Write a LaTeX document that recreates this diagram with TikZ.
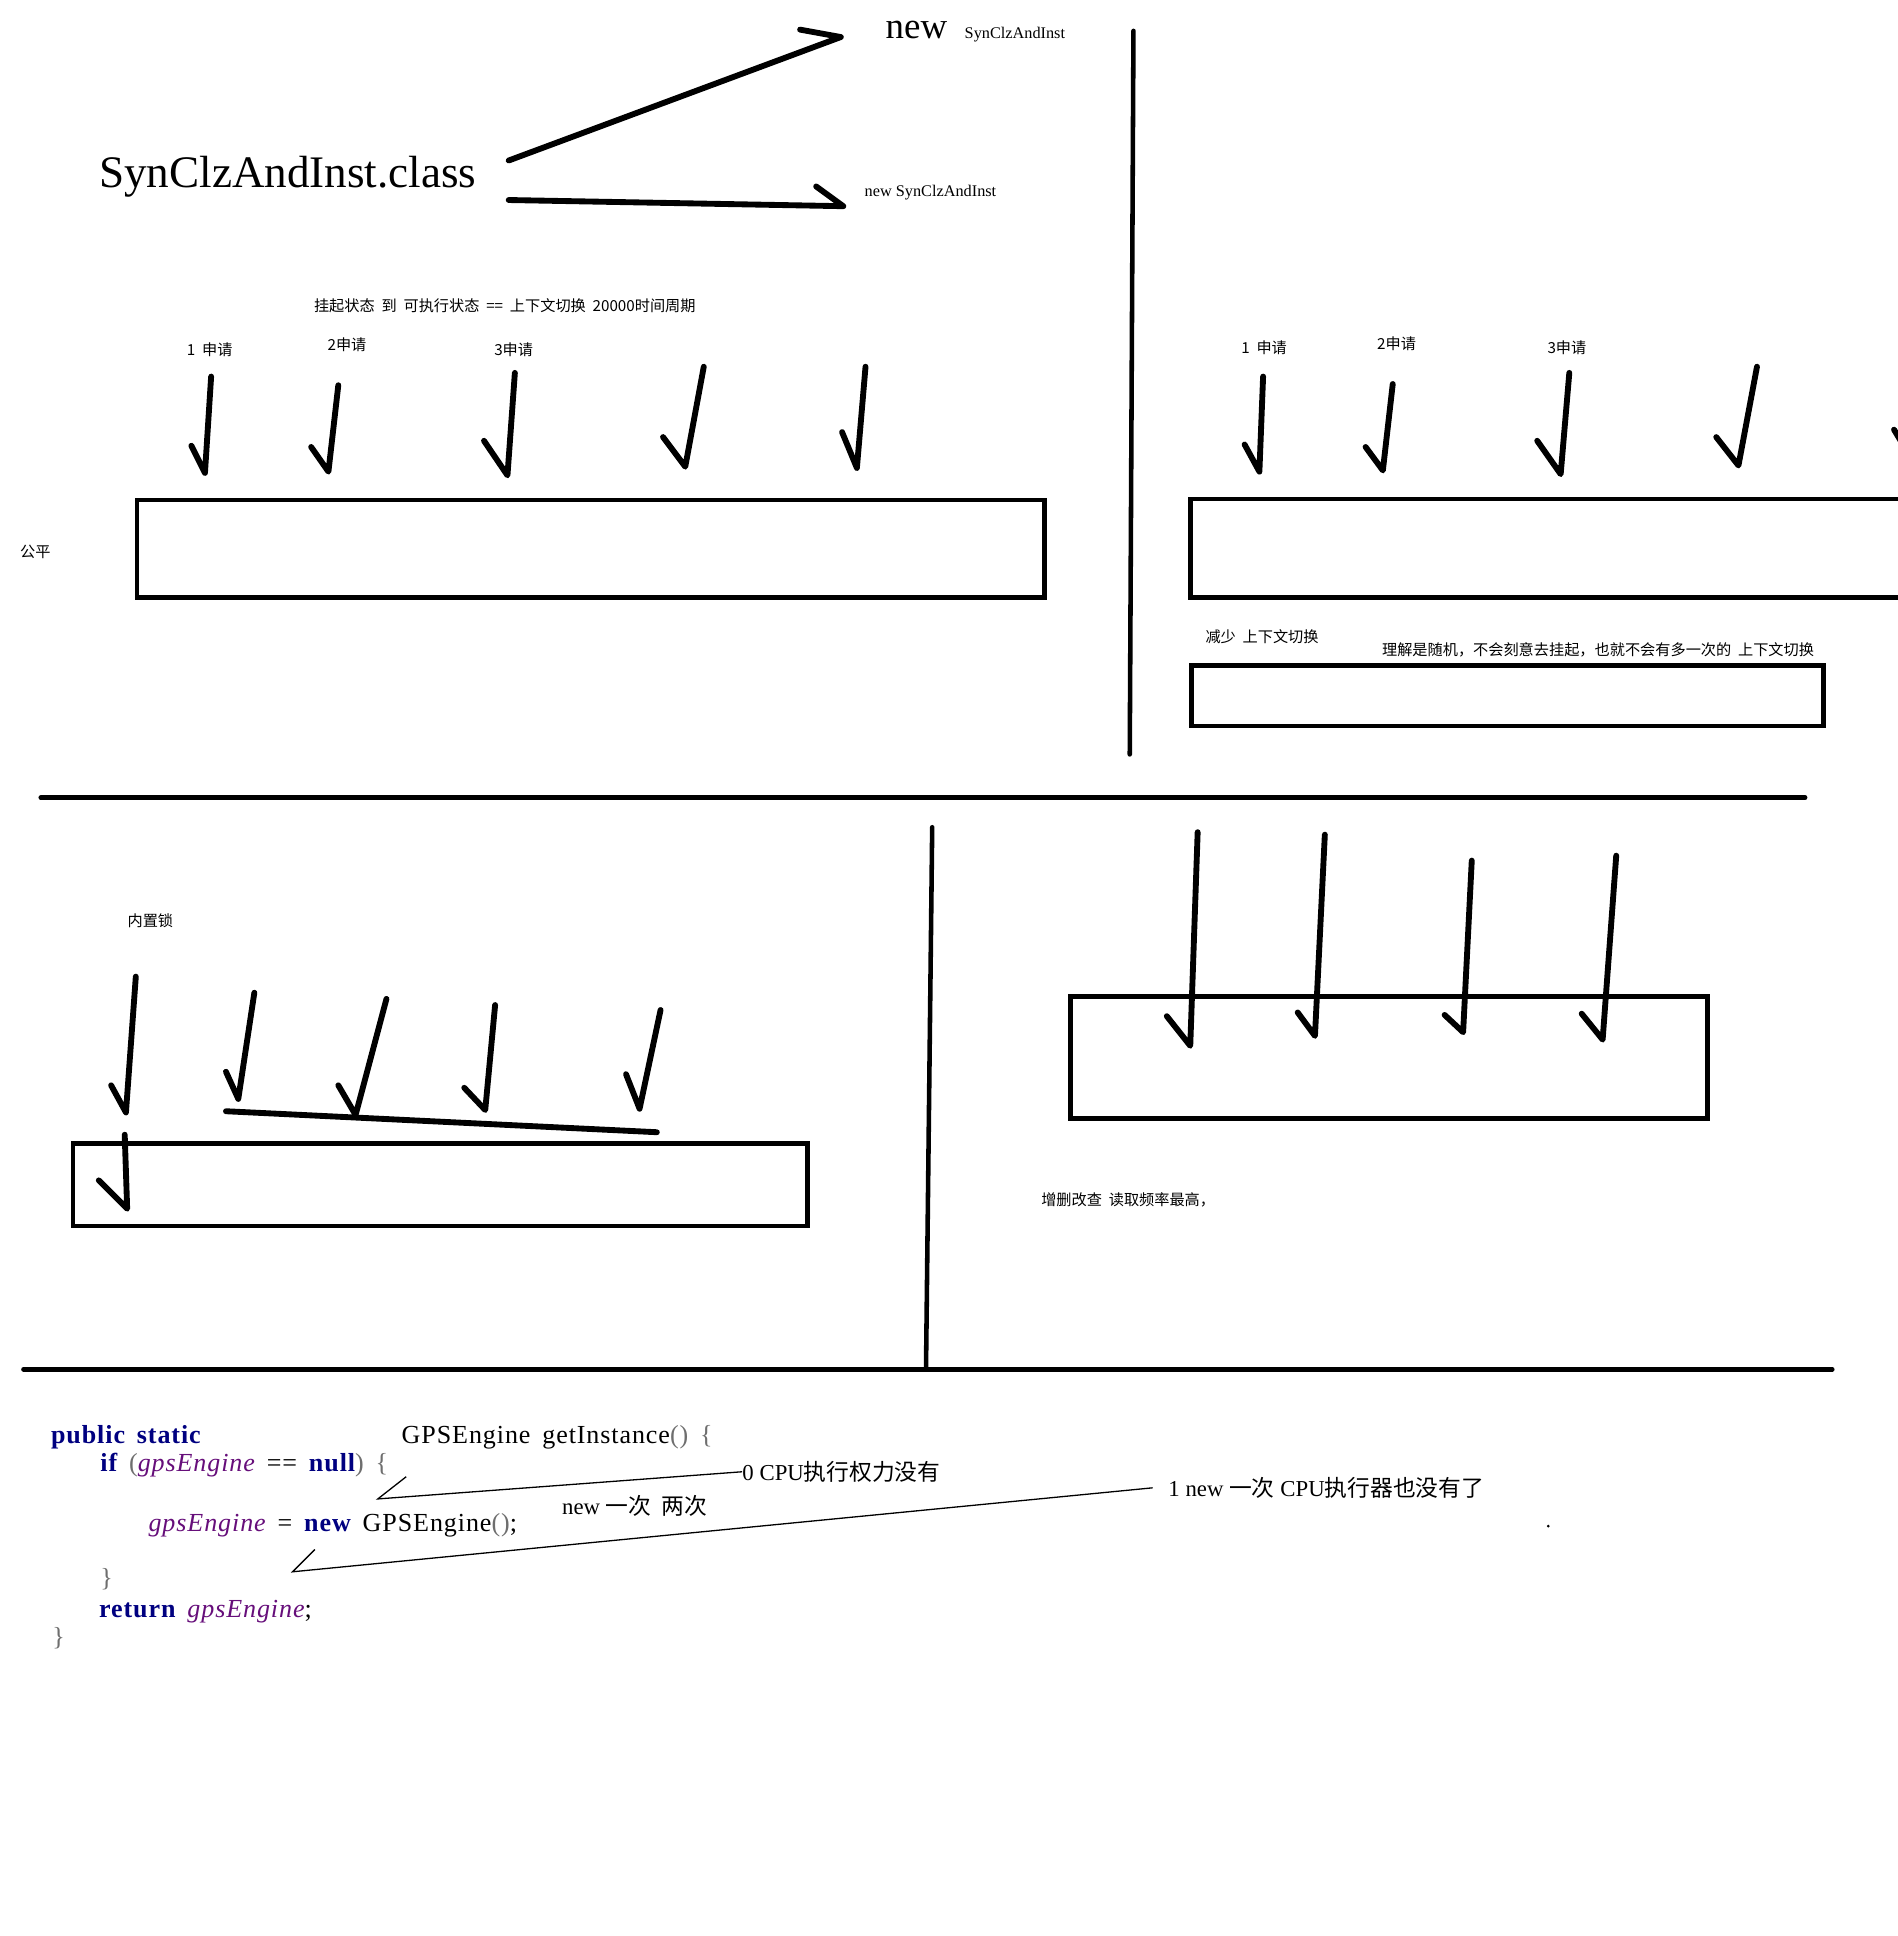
\documentclass[tikz,border=0pt]{standalone}
\usepackage{fontspec}
\setmainfont{Liberation Serif}
\newfontfamily\cjk[WordSpace=2]{Noto Sans CJK SC}
\newfontfamily\codefont[WordSpace=1.6, LetterSpace=3.5]{Liberation Serif}
\usepackage{xcolor}
\usepackage{tikz}
\definecolor{kwnavy}{HTML}{000080}
\definecolor{fieldpurple}{HTML}{660E7A}
\definecolor{parengray}{HTML}{6E6E6E}
\newcommand{\codekw}[1]{{\color{kwnavy}\bfseries #1}}
\newcommand{\codefld}[1]{{\color{fieldpurple}\itshape #1}}
\newcommand{\codepar}[1]{{\color{parengray}#1}}

\begin{document}
\begin{tikzpicture}[x=0.02cm, y=-0.02cm,
    pen/.style={line width=2.7pt, line cap=round, line join=round},
    box/.style={line width=2.1pt},
    rule/.style={line width=2.1pt, line cap=round},
    hair/.style={line width=0.6pt},
    txt/.style={anchor=west, inner sep=0pt},
    note/.style={txt, font=\cjk\fontsize{7}{8}\selectfont},
    code/.style={txt, font=\codefont\fontsize{12}{14}\selectfont},
    ann/.style={txt, font=\fontsize{10.5}{12}\selectfont}]
    \useasboundingbox (0,0) rectangle (1537,1568);
    \clip (0,0) rectangle (1537,1568);

    \node[txt, font=\fontsize{20.8}{24}\selectfont] (cls) at (80,143) {SynClzAndInst.class};
    \node[txt, font=\fontsize{17}{20}\selectfont] (newbig) at (717,24) {new};
    \node[txt, font=\fontsize{7.5}{9}\selectfont] (newcls) at (781,28) {SynClzAndInst};
    \node[txt, font=\fontsize{7.5}{9}\selectfont] (newinst) at (700,156) {new SynClzAndInst};
    \coordinate (upstart) at (412,130);
    \coordinate (uptip) at (681,30);
    \coordinate (lowstart) at (412,162);
    \coordinate (lowtip) at (683,167);
    \draw[pen] (upstart) -- (uptip) -- (648,24);
    \draw[pen] (lowstart) -- (lowtip) -- (661,151);

    \node[note] (suspend) at (254,248) {挂起状态 到 可执行状态 == 上下文切换 20000时间周期};
    \node[note] (ask1) at (151,283) {1 申请};
    \node[note] (ask2) at (265,279) {2申请};
    \node[note] (ask3) at (400,283) {3申请};
    \node[note] (fair) at (16,447) {公平};
    \draw[box] (111,405) rectangle (846,484);

    \node[note] (rask1) at (1005,282) {1 申请};
    \node[note] (rask2) at (1115,278) {2申请};
    \node[note] (rask3) at (1253,282) {3申请};
    \draw[box] (964,404) rectangle (1600,484);
    \node[note] (less) at (976,516) {减少 上下文切换};
    \node[note] (random) at (1119,526) {理解是随机，不会刻意去挂起，也就不会有多一次的 上下文切换};
    \draw[box] (965,539) rectangle (1477,588);
    \draw[pen] (1534,348) -- (1540,358);

    \draw[rule] (918,25) -- (915,611);
    \draw[rule] (33,646) -- (1462,646);
    \draw[rule] (755,670) -- (750,1107);
    \draw[rule] (19,1109) -- (1484,1109);

    \node[note] (lock) at (103,746) {内置锁};
    \draw[pen] (183,900) -- (532,917);
    \draw[box] (59,926) rectangle (654,993);

    \draw[box] (867,807) rectangle (1383,906);
    \node[note] (crud) at (843,972) {增删改查 读取频率最高，};

    \foreach \ax/\ay/\bx/\by/\cx/\cy in {
        155/361/166/383/171/305, 252/362/266/382/274/312, 392/357/411/385/417/302,
        537/354/555/378/570/297, 682/350/694/379/701/297,
        1008/360/1020/382/1023/305, 1106/362/1120/381/1128/311,
        1245/357/1264/384/1271/302, 1390/354/1408/377/1423/297,
        90/879/102/901/110/791, 183/868/193/890/206/804, 274/879/288/903/313/809,
        376/881/393/899/401/814, 507/870/518/898/535/818, 80/956/103/979/101/919,
        945/823/964/847/970/674, 1051/820/1065/839/1073/676,
        1170/822/1185/836/1192/697, 1281/821/1298/842/1309/693}
        \draw[pen] (\ax,\ay) -- (\bx,\by) -- (\cx,\cy);

    \node[code] (pub) at (41,1164) {\codekw{public static}};
    \node[code] (sig) at (325,1164) {GPSEngine getInstance\codepar{()} \codepar{\{}};
    \node[code] (ifline) at (81,1187) {\codekw{if} \codepar{(}\codefld{gpsEngine} == \codekw{null}\codepar{)} \codepar{\{}};
    \node[code] (assign) at (120,1235) {\codefld{gpsEngine} = \codekw{new} GPSEngine\codepar{()};};
    \node[code] (close1) at (81,1279) {\codepar{\}}};
    \node[code] (ret) at (80,1305) {\codekw{return} \codefld{gpsEngine};};
    \node[code] (close2) at (42,1327) {\codepar{\}}};

    \node[ann] (cpu0) at (601,1192) {0 CPU{\cjk 执行权力没有}};
    \node[ann] (twice) at (455,1220) {new {\cjk 一次 两次}};
    \node[ann] (cpu1) at (946,1205) {1 new {\cjk 一次} CPU{\cjk 执行器也没有了}};
    \coordinate (hook0) at (306,1214);
    \coordinate (hook1) at (237,1273);
    \draw[hair] (cpu0.west) -- (hook0) -- (329,1196);
    \draw[hair] ([xshift=-0.25cm]cpu1.west) -- (hook1) -- (255,1255);
    \fill (1254,1236) circle (1.2);
\end{tikzpicture}
\end{document}
